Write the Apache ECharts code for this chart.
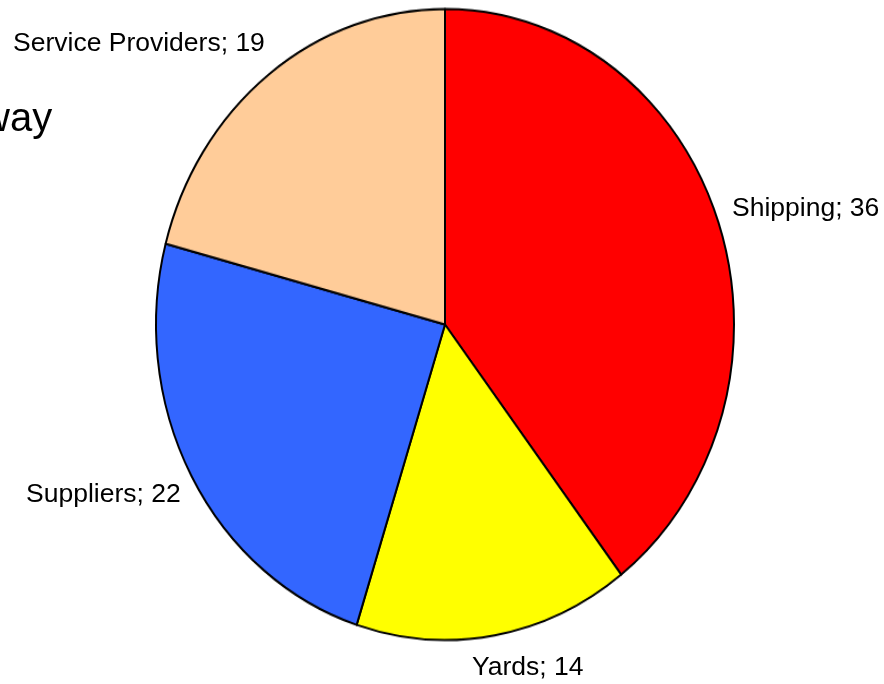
<!DOCTYPE html>
<html>
<head>
<meta charset="utf-8">
<script src="https://cdn.jsdelivr.net/npm/echarts@6/dist/echarts.min.js"></script>
<style>
  html, body { margin: 0; padding: 0; background: #fff; }
  .wrap { position: relative; width: 884px; height: 684px; overflow: hidden; }
  /* the pie in the source is a bit taller than wide */
  #pie { position: absolute; left: 0; top: 0; width: 884px; height: 684px;
         transform: scaleY(1.0917); transform-origin: 0 324.5px; }
  #labels { position: absolute; left: 0; top: 0; width: 884px; height: 684px; }
</style>
</head>
<body>
<div class="wrap">
  <div id="pie"></div>
  <div id="labels"></div>
</div>
<script>
// 数据
const categories = ['Shipping', 'Yards', 'Suppliers', 'Service Providers'];
const values = [36, 14, 22, 19];
const colors = ['#FF0000', '#FFFF00', '#3366FF', '#FFCC99'];

// 标签位置 (left edge, vertical middle)
const labelAnchors = [[732, 209], [472, 668], [26, 495], [13, 44]];

const pieData = categories.map((name, i) => ({
  name: name,
  value: values[i],
  itemStyle: { color: colors[i] }
}));

// 饼图本体
const pieChart = echarts.init(document.getElementById('pie'));
pieChart.setOption({
  animation: false,
  series: [{
    type: 'pie',
    center: [445, 324.5],
    radius: 289,
    startAngle: 90,
    clockwise: true,
    label: { show: false },
    labelLine: { show: false },
    itemStyle: { borderColor: '#000', borderWidth: 2 },
    data: pieData
  }]
});

// 标签层
const labelChart = echarts.init(document.getElementById('labels'));
labelChart.setOption({
  animation: false,
  graphic: [{
    type: 'text',
    left: -19,
    top: 100,
    style: { text: 'way', fontSize: 40, fontFamily: 'Liberation Sans', fill: '#000' }
  }],
  series: [{
    type: 'pie',
    silent: true,
    center: [445, 324.5],
    radius: 289,
    startAngle: 90,
    itemStyle: { color: 'rgba(0,0,0,0)', borderWidth: 0 },
    label: {
      show: true,
      position: 'outside',
      formatter: '{b}; {c}',
      fontSize: 26.5,
      fontFamily: 'Liberation Sans',
      color: '#000',
      overflow: 'none',
      width: 400
    },
    labelLine: { show: false },
    labelLayout: function (params) {
      const p = labelAnchors[params.dataIndex];
      return { x: p[0], y: p[1], align: 'left', verticalAlign: 'middle' };
    },
    data: categories.map((name, i) => ({ name: name, value: values[i] }))
  }]
});
</script>
</body>
</html>
